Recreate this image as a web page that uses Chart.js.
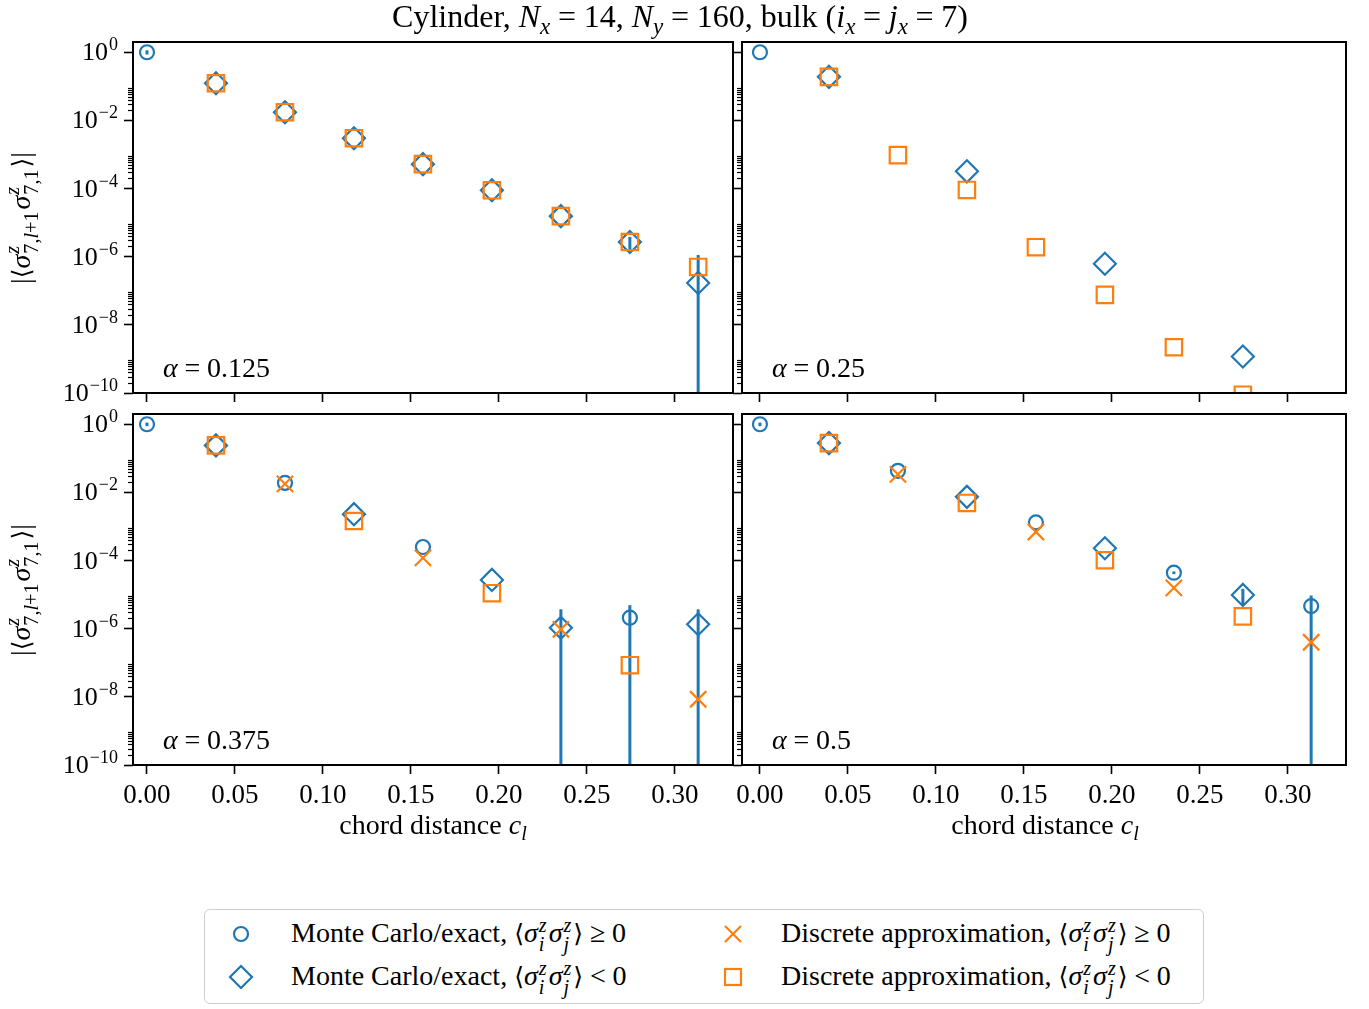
<!DOCTYPE html>
<html>
<head>
<meta charset="utf-8">
<script src="https://cdn.jsdelivr.net/npm/chart.js@4.4.0/dist/chart.umd.min.js"></script>
<style>
  body { margin: 0; width: 1369px; height: 1009px; position: relative; overflow: hidden; background: #fff;
         font-family: 'Liberation Serif', 'DejaVu Serif', serif; color: #000; }
  canvas { position: absolute; }
  .txt { position: absolute; white-space: nowrap; font-size: 28px; line-height: 28px; z-index: 5; }
  .ss { display: inline-flex; flex-direction: column; align-items: flex-start; font-size: 0.72em;
        line-height: 0.92; vertical-align: 0.5em; margin-left: 1px; margin-right: 2px; }
  sub { font-size: 0.72em; vertical-align: -0.3em; line-height: 0; }
  .rel { margin: 0 0.24em; }
  .br { font-family: 'DejaVu Serif', serif; font-size: 0.9em; }
  #legend { position: absolute; left: 204px; top: 909px; width: 998px; height: 93px;
            border: 1.5px solid #cfcfcf; border-radius: 6px; background: #fff; z-index: 4; }
  #legend svg { position: absolute; }
</style>
</head>
<body>
<script>
// chord distance c_l for l = 0..8
const cl = [0, 0.0392, 0.0784, 0.1176, 0.1568, 0.196, 0.2352, 0.2744, 0.3132];

// signed correlations (null = no marker)
// alpha = 0.125
const mc125     = [1, -1.23e-1, -1.74e-2, -3.0e-3, -5.2e-4, -8.9e-5, -1.55e-5, -2.7e-6, -1.7e-7];
const mcErr125  = [0.14, 0, 0, 0, 0, 0, 0, 1.1e-6, 9.5e-7];
const disc125   = [null, -1.23e-1, -1.74e-2, -3.0e-3, -5.2e-4, -8.9e-5, -1.55e-5, -2.7e-6, -5.0e-7];
// alpha = 0.25
const mc25      = [1, -1.9e-1, null, -3.2e-4, null, -6.2e-7, null, -1.18e-9, null];
const mcErr25   = [0, 0, 0, 0, 0, 0, 0, 0, 0];
const disc25    = [null, -1.9e-1, -9.6e-4, -9.1e-5, -1.9e-6, -7.6e-8, -2.2e-9, -8.9e-11, null];
// alpha = 0.375
const mc375     = [1, -2.4e-1, 1.9e-2, -2.3e-3, 2.5e-4, -2.7e-5, -1.07e-6, 2.1e-6, -1.35e-6];
const mcErr375  = [0.12, 0, 0, 0, 0, 0, 2.65e-6, 2.8e-6, 2.35e-6];
const disc375   = [null, -2.4e-1, 1.78e-2, -1.45e-3, 1.2e-4, -1.1e-5, 9.5e-7, -8.5e-8, 8.5e-9];
// alpha = 0.5
const mc5       = [1, -2.8e-1, 4.3e-2, -7.4e-3, 1.32e-3, -2.3e-4, 4.4e-5, -9.8e-6, 4.6e-6];
const mcErr5    = [0.12, 0, 0, 0, 0, 0, 4e-6, 5e-6, 4.8e-6];
const disc5     = [null, -2.8e-1, 3.4e-2, -4.9e-3, 6.9e-4, -1.02e-4, 1.58e-5, -2.3e-6, 4.0e-7];

// ticks
const xTicks = [0, 0.05, 0.1, 0.15, 0.2, 0.25, 0.3];
const xTickLabels = ['0.00', '0.05', '0.10', '0.15', '0.20', '0.25', '0.30'];
const yTicks = [1, 1e-2, 1e-4, 1e-6, 1e-8, 1e-10];
const yTickExps = ['0', '\u22122', '\u22124', '\u22126', '\u22128', '\u221210'];
const minorDecades = [1, 1e-2, 1e-4, 1e-6, 1e-8, 1e-10];
const minorSubs = [2, 3, 4, 5, 6, 7, 8, 9];

const BLUE = '#1f77b4', ORANGE = '#ff7f0e';
const FAMILY = "'Liberation Serif', 'DejaVu Serif', serif";
const FONT = {family: FAMILY, size: 27};

// 面板布局
const panels = [
  {alpha: '0.125', mc: mc125, err: mcErr125, disc: disc125, L: 133, T: 42, R: 733, B: 393, xMin: -0.00795, xMax: 0.333, yLab: true, xLab: false},
  {alpha: '0.25', mc: mc25, err: mcErr25, disc: disc25, L: 742, T: 42, R: 1346, B: 393, xMin: -0.0102, xMax: 0.333, yLab: false, xLab: false},
  {alpha: '0.375', mc: mc375, err: mcErr375, disc: disc375, L: 133, T: 414, R: 733, B: 765, xMin: -0.00795, xMax: 0.333, yLab: true, xLab: true},
  {alpha: '0.5', mc: mc5, err: mcErr5, disc: disc5, L: 742, T: 414, R: 1346, B: 765, xMin: -0.0102, xMax: 0.333, yLab: false, xLab: true}
];

function pick(vals, sign, errs) {
  const out = [];
  vals.forEach((v, i) => {
    if (v === null) return;
    if (sign * v > 0) out.push({x: cl[i], y: Math.abs(v), e: errs ? errs[i] : 0});
  });
  return out;
}

// 误差棒
const errorBars = {
  id: 'errorBars',
  beforeDatasetsDraw(chart) {
    const {ctx, chartArea: a, scales: {x, y}} = chart;
    ctx.save();
    ctx.beginPath();
    ctx.rect(a.left, a.top, a.width, a.height);
    ctx.clip();
    ctx.strokeStyle = BLUE;
    ctx.lineWidth = 3;
    chart.data.datasets.forEach(ds => {
      if (!ds.hasErr) return;
      ds.data.forEach(p => {
        if (!p.e) return;
        const px = x.getPixelForValue(p.x);
        const top = y.getPixelForValue(p.y + p.e);
        const bot = p.y - p.e > 0 ? y.getPixelForValue(p.y - p.e) : a.bottom;
        ctx.beginPath();
        ctx.moveTo(px, top);
        ctx.lineTo(px, bot);
        ctx.stroke();
      });
    });
    ctx.restore();
  }
};

// 边框、次刻度和 10^n 刻度标签
const frame = {
  id: 'frame',
  afterDraw(chart, args, opts) {
    const {ctx, chartArea: a, scales: {y}} = chart;
    ctx.save();
    ctx.strokeStyle = '#000';
    ctx.lineWidth = 1.2;
    minorDecades.forEach(d => minorSubs.forEach(s => {
      const v = d * s;
      if (v <= y.min || v >= y.max) return;
      const py = Math.round(y.getPixelForValue(v)) + 0.5;
      ctx.beginPath();
      ctx.moveTo(a.left - 5, py);
      ctx.lineTo(a.left, py);
      ctx.stroke();
    }));
    ctx.lineWidth = 2;
    ctx.strokeRect(a.left, a.top, a.width, a.height);

    if (opts.labels) {
      ctx.fillStyle = '#000';
      ctx.textAlign = 'right';
      ctx.textBaseline = 'alphabetic';
      const right = a.left - 15;
      yTicks.forEach((v, i) => {
        const py = y.getPixelForValue(v);
        ctx.font = `18px ${FAMILY}`;
        const ew = ctx.measureText(yTickExps[i]).width;
        ctx.fillText(yTickExps[i], right, py - 2);
        ctx.font = `26px ${FAMILY}`;
        ctx.fillText('10', right - ew - 1, py + 8);
      });
    }
    ctx.restore();
  }
};

function makePanel(p) {
  const padL = p.yLab ? 125 : 30, padR = 20, padT = 30, padB = p.xLab ? 60 : 30;
  const W = p.R - p.L + padL + padR, H = p.B - p.T + padT + padB;
  const cv = document.createElement('canvas');
  cv.width = W; cv.height = H;
  cv.style.left = (p.L - padL) + 'px';
  cv.style.top = (p.T - padT) + 'px';
  cv.style.width = W + 'px';
  cv.style.height = H + 'px';
  document.body.appendChild(cv);

  const marker = (data, style, radius, color, hasErr) => ({
    data, hasErr, pointStyle: style, pointRadius: radius, pointBorderWidth: 2.2,
    borderColor: color, pointBorderColor: color, backgroundColor: 'rgba(0,0,0,0)',
    pointBackgroundColor: 'rgba(0,0,0,0)', showLine: false, clip: 0
  });

  new Chart(cv.getContext('2d'), {
    type: 'scatter',
    data: {
      datasets: [
        marker(pick(p.disc, -1), 'rect', 11.6, ORANGE, false),
        marker(pick(p.disc, 1), 'crossRot', 11.5, ORANGE, false),
        marker(pick(p.mc, -1, p.err), 'rectRot', 11, BLUE, true),
        marker(pick(p.mc, 1, p.err), 'circle', 7, BLUE, true)
      ]
    },
    options: {
      responsive: false, animation: false, events: [],
      layout: {padding: {left: 0, top: padT, right: padR, bottom: 0}},
      plugins: {legend: {display: false}, tooltip: {enabled: false}, frame: {labels: p.yLab}},
      scales: {
        x: {
          type: 'linear', min: p.xMin, max: p.xMax, bounds: 'data',
          afterBuildTicks: s => { s.ticks = xTicks.map(v => ({value: v})); },
          afterFit: s => { s.height = padB; },
          ticks: {display: p.xLab, autoSkip: false, maxRotation: 0, padding: 6, color: '#000', font: FONT,
                  callback: (v, i) => xTickLabels[i]},
          grid: {drawOnChartArea: false, tickLength: 9, tickWidth: 1.6, tickColor: '#000'},
          border: {display: false}
        },
        y: {
          type: 'logarithmic', min: 1e-10, max: 2, bounds: 'data',
          afterBuildTicks: s => { s.ticks = yTicks.map(v => ({value: v})); },
          afterFit: s => { s.width = padL; },
          ticks: {display: false},
          grid: {drawOnChartArea: false, tickLength: 9, tickWidth: 1.6, tickColor: '#000'},
          border: {display: false}
        }
      }
    },
    plugins: [errorBars, frame]
  });
}

panels.forEach(makePanel);

// 文字
function addText(html, left, top, extra) {
  const d = document.createElement('div');
  d.className = 'txt';
  d.innerHTML = html;
  d.style.left = left + 'px';
  d.style.top = top + 'px';
  if (extra) d.style.cssText += extra;
  document.body.appendChild(d);
  return d;
}

const rel = s => `<span class="rel">${s}</span>`;
const ss = (a, b) => `<span class="ss"><span>${a}</span><span>${b}</span></span>`;
const corr = `<span class="br">⟨</span><i>σ</i>${ss('<i>z</i>', '<i>i</i>')}<i>σ</i>${ss('<i>z</i>', '<i>j</i>')}<span class="br">⟩</span>`;
const yLabel = `|<span class="br">⟨</span><i>σ</i>${ss('<i>z</i>', '7,<i>l</i>+1')}<i>σ</i>${ss('<i>z</i>', '7,1')}<span class="br">⟩</span>|`;

addText(`Cylinder, <i>N<sub>x</sub></i>${rel('=')}14, <i>N<sub>y</sub></i>${rel('=')}160, bulk (<i>i<sub>x</sub></i>${rel('=')}<i>j<sub>x</sub></i>${rel('=')}7)`,
        680, 0, 'transform: translateX(-50%); font-size: 32px; line-height: 32px;');
addText(yLabel, 22, 218, 'transform: translate(-50%, -50%) rotate(-90deg);');
addText(yLabel, 22, 590, 'transform: translate(-50%, -50%) rotate(-90deg);');
addText('chord distance <i>c<sub>l</sub></i>', 433, 811, 'transform: translateX(-50%);');
addText('chord distance <i>c<sub>l</sub></i>', 1045, 811, 'transform: translateX(-50%);');
panels.forEach(p => addText(`<i>α</i>${rel('=')}${p.alpha}`, p.L + 30, p.B - 39));

// 图例
const legend = document.createElement('div');
legend.id = 'legend';
document.body.appendChild(legend);
const icons = {
  circle: `<circle cx="15" cy="15" r="7" fill="none" stroke="${BLUE}" stroke-width="2.2"/>`,
  diamond: `<polygon points="15,4 26,15 15,26 4,15" fill="none" stroke="${BLUE}" stroke-width="2.2"/>`,
  cross: `<path d="M7,7 L23,23 M23,7 L7,23" stroke="${ORANGE}" stroke-width="2.2"/>`,
  square: `<rect x="7" y="7" width="16" height="16" fill="none" stroke="${ORANGE}" stroke-width="2.2"/>`
};
const legendItems = [
  {icon: 'circle', text: `Monte Carlo/exact, ${corr}${rel('≥')}0`, mx: 36, tx: 86, y: 24},
  {icon: 'diamond', text: `Monte Carlo/exact, ${corr}${rel('&lt;')}0`, mx: 36, tx: 86, y: 67},
  {icon: 'cross', text: `Discrete approximation, ${corr}${rel('≥')}0`, mx: 528, tx: 576, y: 24},
  {icon: 'square', text: `Discrete approximation, ${corr}${rel('&lt;')}0`, mx: 528, tx: 576, y: 67}
];
legendItems.forEach(it => {
  legend.insertAdjacentHTML('beforeend',
    `<svg width="30" height="30" style="left:${it.mx - 15}px; top:${it.y - 15}px">${icons[it.icon]}</svg>`);
  const t = document.createElement('div');
  t.className = 'txt';
  t.innerHTML = it.text;
  t.style.left = it.tx + 'px';
  t.style.top = (it.y - 18) + 'px';
  legend.appendChild(t);
});
</script>
</body>
</html>
